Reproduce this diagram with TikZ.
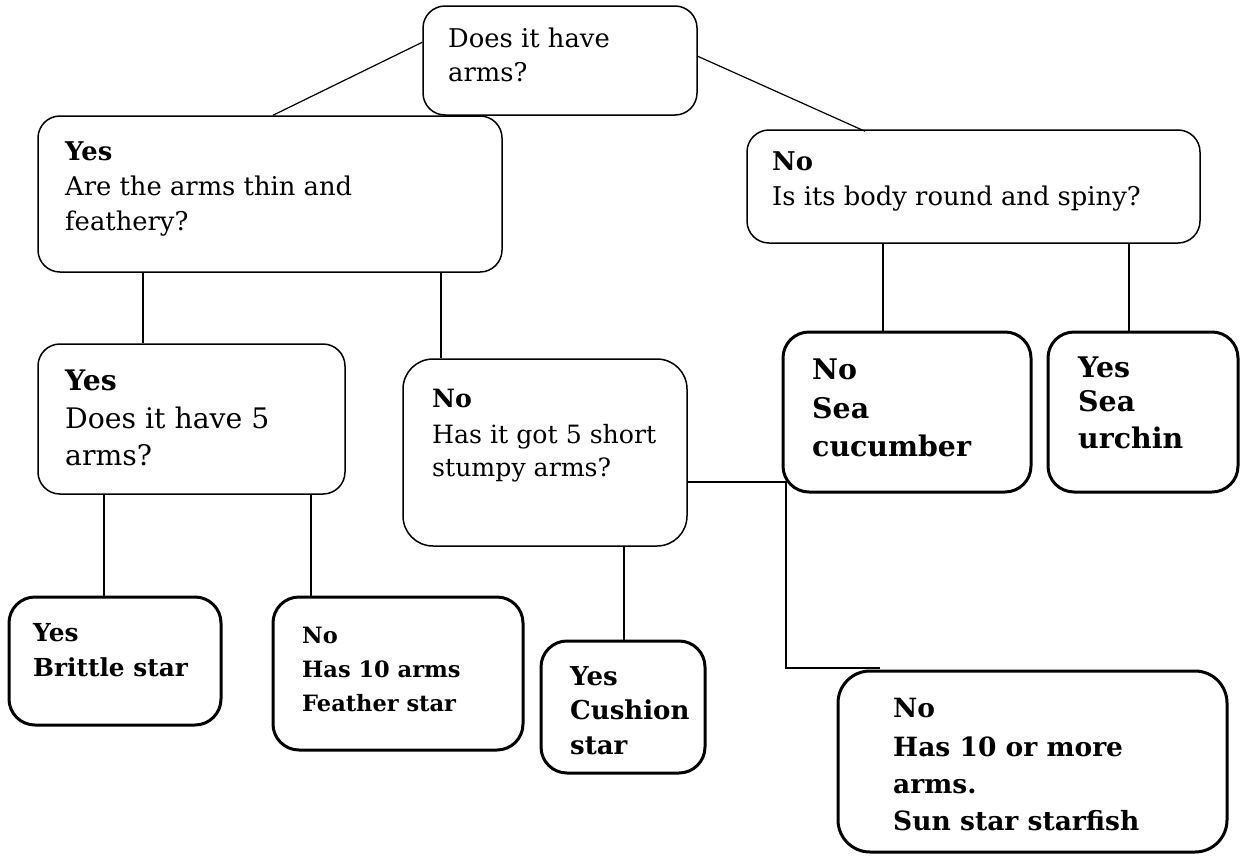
\documentclass[tikz,border=0pt]{standalone}
\usepackage{fontspec}
\setmainfont{DejaVu Serif}
\begin{document}
\begin{tikzpicture}[x=1pt,y=-1pt,
  thinbox/.style={draw=black,line width=1.5pt,rounded corners=22pt,inner sep=0pt,fill=white},
  thickbox/.style={draw=black,line width=3pt,rounded corners=26pt,inner sep=0pt,fill=white},
  conn/.style={draw=black,line width=1.2pt},
  txt/.style={anchor=base west,inner sep=0pt}]
\useasboundingbox[fill=white] (0,0) rectangle (1242,857);

% boxes (drawn as rectangles spanning given corners)
\newcommand{\mybox}[6]{\node[#1,minimum width=#4-#2,minimum height=#5-#3] (#6) at ({(#2+#4)/2},{(#3+#5)/2}) {};}
\mybox{thinbox}{423}{6}{697}{115}{b1}
\mybox{thinbox}{38}{116}{502}{272}{b2}
\mybox{thinbox}{747}{130}{1200}{243}{b3}
\mybox{thinbox}{38}{344}{345}{494}{b4}
\mybox{thinbox,rounded corners=30pt}{403}{359}{687}{546}{b5}
\mybox{thickbox}{783}{332}{1031}{492}{cuc}
\mybox{thickbox}{1048}{332}{1238}{492}{urc}
\mybox{thickbox}{9}{597}{221}{725}{bri}
\mybox{thickbox}{273}{597}{523}{750}{fea}
\mybox{thickbox}{541}{641}{705}{773}{cus}
\mybox{thickbox,rounded corners=32pt}{838}{671}{1227}{852}{sun}

% column coordinates
\coordinate (x104) at (104,0);
\coordinate (x143) at (143,0);
\coordinate (x273) at (273,0);
\coordinate (x311) at (311,0);
\coordinate (x441) at (441,0);
\coordinate (x624) at (624,0);
\coordinate (x865) at (865,0);
\coordinate (x883) at (883,0);
\coordinate (x1129) at (1129,0);
\coordinate (j1) at (786,482);
\coordinate (j2) at (786,668);
\coordinate (j3) at (880,668);

% connectors
\draw[conn] ([yshift=-37pt]b1.north west) -- (b2.north -| x273);
\draw[conn] ([yshift=-51pt]b1.north east) -- ([yshift=-2pt]b3.north -| x865);
\draw[conn] (b2.south -| x143) -- (b4.north -| x143);
\draw[conn] (b2.south -| x441) -- (b5.north -| x441);
\draw[conn] (b4.south -| x104) -- (bri.north -| x104);
\draw[conn] (b4.south -| x311) -- (fea.north -| x311);
\draw[conn] (b3.south -| x883) -- (cuc.north -| x883);
\draw[conn] (b3.south -| x1129) -- (urc.north -| x1129);
\draw[conn] (b5.south -| x624) -- (cus.north -| x624);
\draw[conn] (b5.east |- j1) -- (j1) -- (j2) -- (j3);

% texts
\begin{scope}[font=\fontsize{25.8}{30}\selectfont]
\node[txt] (t1a) at (448,47) {Does it have};
\node[txt] (t1b) at (448,81) {arms?};
\node[txt] (t2a) at (65,160) {\bfseries Yes};
\node[txt] (t2b) at (65,195) {Are the arms thin and};
\node[txt] (t2c) at (65,230) {feathery?};
\node[txt] (t3a) at (772,170) {\bfseries No};
\node[txt] (t3b) at (772,205) {Is its body round and spiny?};
\end{scope}
\begin{scope}[font=\fontsize{28.3}{32}\selectfont]
\node[txt] (t4a) at (65,390) {\bfseries Yes};
\node[txt] (t4b) at (65,428) {Does it have 5};
\node[txt] (t4c) at (65,465) {arms?};
\end{scope}
\begin{scope}[font=\fontsize{25.2}{30}\selectfont]
\node[txt] (t5a) at (432,407) {\bfseries No};
\node[txt] (t5b) at (432,443) {Has it got 5 short};
\node[txt] (t5c) at (432,476) {stumpy arms?};
\end{scope}
\begin{scope}[font=\fontsize{28.4}{32}\selectfont\bfseries]
\node[txt] (tca) at (812,379) {No};
\node[txt] (tcb) at (812,418) {Sea};
\node[txt] (tcc) at (812,456) {cucumber};
\node[txt] (tua) at (1078,377) {Yes};
\node[txt] (tub) at (1078,411) {Sea};
\node[txt] (tuc) at (1078,448) {urchin};
\end{scope}
\begin{scope}[font=\fontsize{24.8}{30}\selectfont\bfseries]
\node[txt] (tba) at (33,641) {Yes};
\node[txt] (tbb) at (33,676) {Brittle star};
\end{scope}
\begin{scope}[font=\fontsize{22.5}{30}\selectfont\bfseries]
\node[txt] (tfa) at (302,643) {No};
\node[txt] (tfb) at (302,677) {Has 10 arms};
\node[txt] (tfc) at (302,711) {Feather star};
\end{scope}
\begin{scope}[font=\fontsize{26}{30}\selectfont\bfseries]
\node[txt] (tsa) at (570,685) {Yes};
\node[txt] (tsb) at (570,719) {Cushion};
\node[txt] (tsc) at (570,754) {star};
\end{scope}
\begin{scope}[font=\fontsize{26.5}{30}\selectfont\bfseries]
\node[txt] (tna) at (893,717) {No};
\node[txt] (tnb) at (893,756) {Has 10 or more};
\node[txt] (tnc) at (893,793) {arms.};
\node[txt] (tnd) at (893,830) {Sun star starfish};
\end{scope}
\end{tikzpicture}
\end{document}
